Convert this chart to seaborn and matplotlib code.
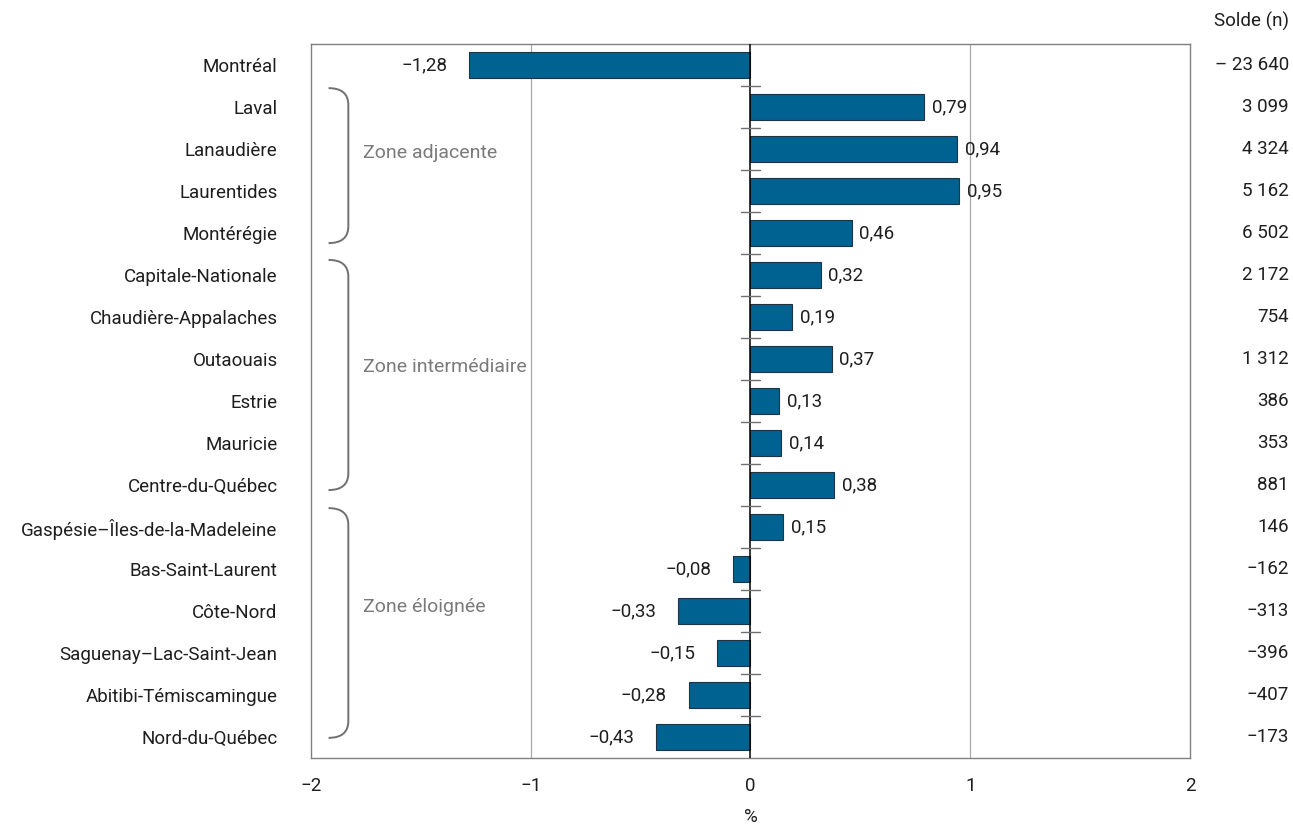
import matplotlib
matplotlib.use("Agg")
import matplotlib.pyplot as plt
from matplotlib import font_manager
from matplotlib.path import Path
from matplotlib.patches import PathPatch
import seaborn as sns
import pandas as pd

regions = ["Montréal", "Laval", "Lanaudière", "Laurentides", "Montérégie",
           "Capitale-Nationale", "Chaudière-Appalaches", "Outaouais", "Estrie",
           "Mauricie", "Centre-du-Québec", "Gaspésie–Îles-de-la-Madeleine",
           "Bas-Saint-Laurent", "Côte-Nord", "Saguenay–Lac-Saint-Jean",
           "Abitibi-Témiscamingue", "Nord-du-Québec"]
taux = [-1.28, 0.79, 0.94, 0.95, 0.46, 0.32, 0.19, 0.37, 0.13, 0.14, 0.38,
        0.15, -0.08, -0.33, -0.15, -0.28, -0.43]
solde = ["– 23 640", "3 099", "4 324", "5 162", "6 502", "2 172", "754",
         "1 312", "386", "353", "881", "146", "−162", "−313", "−396", "−407", "−173"]
zones = ["Zone adjacente", "Zone intermédiaire", "Zone éloignée"]
zone_start = ["Laval", "Capitale-Nationale", "Gaspésie–Îles-de-la-Madeleine"]
zone_end = ["Montérégie", "Centre-du-Québec", "Nord-du-Québec"]
xticks = [-2, -1, 0, 1, 2]
xtick_labels = ["−2", "−1", "0", "1", "2"]

# bracket styling (offsets relative to first/last row of each zone)
br_top_off = [0.45, 0.36, 0.45]
br_bot_off = [0.24, 0.12, 0.02]
lab_pos_off = [1.1, 2.2, 1.9]

sns.set_theme(style="white")
names = {f.name for f in font_manager.fontManager.ttflist}
stretch = "normal"
if "Liberation Sans Narrow" in names:
    fam = "Liberation Sans Narrow"
elif "DejaVu Sans Condensed" in names:
    fam = "DejaVu Sans"
    stretch = "condensed"
else:
    fam = "Roboto"
plt.rcParams["font.family"] = [fam, "DejaVu Sans"]
plt.rcParams["font.stretch"] = stretch

FS = 13.5
TXT = "#1e1e1e"
BAR = "#006291"
GRAY = "#808080"

df = pd.DataFrame({"region": regions, "taux": taux})

fig = plt.figure(figsize=(12.93, 8.26), dpi=100)
ax = fig.add_axes([0.2405, 0.0823, 0.6798, 0.8644])

sns.barplot(data=df, x="taux", y="region", orient="h", color=BAR, saturation=1,
            width=0.6, edgecolor="#1c3444", linewidth=0.8, ax=ax, zorder=3)

ax.set_xlim(-2, 2)
ax.set_ylim(len(regions) - 0.5, -0.5)
ax.set_xticks(xticks)
ax.set_xticklabels(xtick_labels, fontsize=FS, color=TXT)
ax.tick_params(axis="x", length=0, pad=14)
ax.tick_params(axis="y", length=0, pad=24, labelsize=FS, labelcolor=TXT)
ax.set_ylabel("")
ax.set_xlabel("%", fontsize=FS, color=TXT, labelpad=9)

for s in ax.spines.values():
    s.set_color(GRAY)
    s.set_linewidth(1.0)

for gx in [-1, 1]:
    ax.axvline(gx, color="#a8a8a8", lw=0.9, zorder=1)
ax.axvline(0, color="black", lw=1.1, zorder=4)

# small separator ticks on zero line
for i in range(len(regions) - 1):
    ax.plot([-0.042, 0.045], [i + 0.5, i + 0.5], color="#707070", lw=1.0, zorder=4)

# value labels
for i, v in enumerate(taux):
    lab = f"{v:.2f}".replace(".", ",").replace("-", "−")
    if v >= 0:
        ax.text(v + 0.035, i, lab, ha="left", va="center", fontsize=FS, color=TXT, zorder=5)
    else:
        ax.text(v - 0.1, i, lab, ha="right", va="center", fontsize=FS, color=TXT, zorder=5)

# right column solde
trans = ax.get_yaxis_transform()
for i, s in enumerate(solde):
    ax.text(1.1126, i, s, transform=trans, ha="right", va="center", fontsize=FS,
            color=TXT, clip_on=False)
ax.text(1.1126, -1.03, "Solde (n)", transform=trans, ha="right", va="center",
        fontsize=FS, color=TXT, clip_on=False)

# brackets
for z, a, b, t_off, b_off, l_off in zip(zones, zone_start, zone_end,
                                         br_top_off, br_bot_off, lab_pos_off):
    ia, ib = regions.index(a), regions.index(b)
    y0 = ia - t_off
    y1 = ib + b_off
    xl, xr = -1.92, -1.83
    r = 0.4
    verts = [(xl, y0), (xr, y0), (xr, y0 + r), (xr, y0 + r),
             (xr, y1 - r), (xr, y1), (xl, y1)]
    codes = [Path.MOVETO, Path.CURVE3, Path.CURVE3, Path.LINETO,
             Path.LINETO, Path.CURVE3, Path.CURVE3]
    ax.add_patch(PathPatch(Path(verts, codes), fill=False, edgecolor="#707070",
                           lw=1.4, zorder=5))
    ax.text(-1.761, ia + l_off, z, ha="left", va="center", fontsize=FS + 0.5,
            color="#7a7a7a", zorder=5)

fig.savefig("out.png", dpi=100)
